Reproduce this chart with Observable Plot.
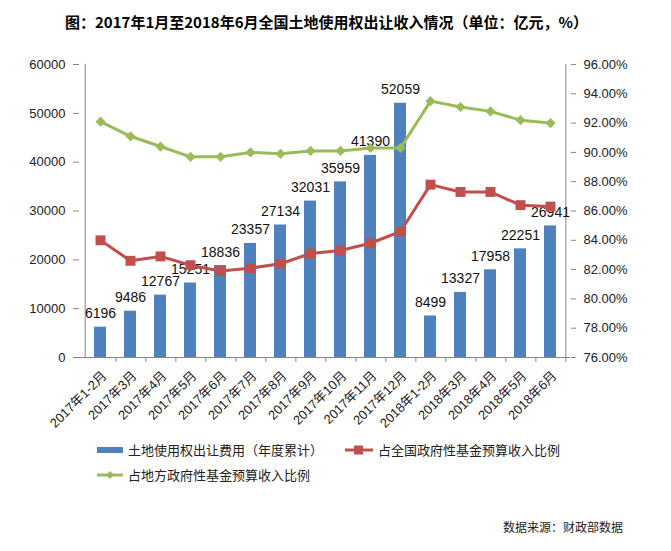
<!DOCTYPE html>
<html><head><meta charset="utf-8">
<script src="https://cdn.jsdelivr.net/npm/d3@7"></script>
<script src="https://cdn.jsdelivr.net/npm/@observablehq/plot@0.6"></script>
<style>
body{margin:0;background:#fff;font-family:"Liberation Sans","Noto Sans CJK SC",sans-serif;}
#wrap{position:relative;width:671px;height:551px;overflow:hidden;background:#fff;}
#title{position:absolute;top:12px;left:65px;white-space:nowrap;font-weight:bold;font-size:15px;font-family:"Noto Sans CJK SC",sans-serif;color:#000;line-height:20px;}
#chart{position:absolute;top:40px;left:0;}
.leg{position:absolute;font-size:13px;font-family:"Noto Sans CJK SC",sans-serif;color:#222;line-height:16px;white-space:nowrap;display:flex;align-items:center;}
.leg svg{margin-right:5px;}
#source{position:absolute;top:518px;left:503px;font-size:12px;font-family:"Noto Sans CJK SC",sans-serif;color:#222;white-space:nowrap;}
</style></head>
<body>
<div id="wrap">
  <div id="title">图：2017年1月至2018年6月全国土地使用权出让收入情况（单位：亿元，%）</div>
  <div id="chart"></div>
  <div class="leg" style="left:97px;top:442px;"><svg width="26" height="8"><rect x="0" y="1" width="26" height="6" fill="#4F81BD"/></svg><span id="l1"></span></div>
  <div class="leg" style="left:345px;top:442px;"><svg width="28" height="12"><line x1="0" y1="6" x2="28" y2="6" stroke="#C0504D" stroke-width="3"/><rect x="9" y="1.5" width="9" height="9" fill="#C0504D"/></svg><span id="l2"></span></div>
  <div class="leg" style="left:97px;top:467px;"><svg width="26" height="12"><line x1="0" y1="6" x2="26" y2="6" stroke="#9BBB59" stroke-width="3"/><path d="M13,2 L17,6 L13,10 L9,6Z" fill="#9BBB59"/></svg><span id="l3"></span></div>
  <div id="source">数据来源：财政部数据</div>
</div>
<script>
const categories = ["2017年1-2月","2017年3月","2017年4月","2017年5月","2017年6月","2017年7月","2017年8月","2017年9月","2017年10月","2017年11月","2017年12月","2018年1-2月","2018年3月","2018年4月","2018年5月","2018年6月"];
const landRevenue = [6196,9486,12767,15251,18836,23357,27134,32031,35959,41390,52059,8499,13327,17958,22251,26941];
const shareNational = [84.0,82.6,82.9,82.3,81.9,82.1,82.4,83.1,83.3,83.8,84.6,87.8,87.3,87.3,86.4,86.3];
const shareLocal = [92.1,91.1,90.4,89.7,89.7,90.0,89.9,90.1,90.1,90.3,90.3,93.5,93.1,92.8,92.2,92.0];
const leftTicks = [0,10000,20000,30000,40000,50000,60000];
const rightTicks = [76,78,80,82,84,86,88,90,92,94,96];
const seriesNames = ["土地使用权出让费用（年度累计）","占全国政府性基金预算收入比例","占地方政府性基金预算收入比例"];

document.getElementById("l1").textContent = seriesNames[0];
document.getElementById("l2").textContent = seriesNames[1];
document.getElementById("l3").textContent = seriesNames[2];

const leftMax = 60000, rMin = 76, rMax = 96;
const toLeft = p => (p - rMin) / (rMax - rMin) * leftMax;
const fromLeft = v => rMin + v / leftMax * (rMax - rMin);

const data = categories.map((c, i) => ({cat: c, value: landRevenue[i], nat: toLeft(shareNational[i]), loc: toLeft(shareLocal[i])}));

const W = 671, H = 390, mL = 79, mR = 101, mT = 24, mB = 73;
const bw = (W - mL - mR) / categories.length;
const axisColor = "#868686";

const chart = Plot.plot({
  width: W, height: H,
  marginLeft: mL, marginRight: mR, marginTop: mT, marginBottom: mB,
  style: {fontFamily: '"Liberation Sans","Noto Sans CJK SC",sans-serif', color: "#222", background: "#fff"},
  x: {type: "band", domain: categories, padding: 0, label: null},
  y: {domain: [0, leftMax], label: null},
  marks: [
    Plot.barY(data, {x: "cat", y: "value", fill: "#4F81BD", insetLeft: 9, insetRight: 9}),
    Plot.ruleY([0], {stroke: axisColor}),
    Plot.ruleX([categories[0]], {x: d => d, y1: 0, y2: leftMax, dx: -bw/2, stroke: axisColor}),
    Plot.ruleX([categories[categories.length-1]], {x: d => d, y1: 0, y2: leftMax, dx: bw/2, stroke: axisColor}),
    Plot.ruleX(categories, {x: d => d, y1: 0, y2: -1000, dx: bw/2, stroke: axisColor}),
    Plot.axisY(leftTicks, {anchor: "left", tickSize: 6, tickPadding: 8, fontSize: 13, stroke: axisColor, fill: "#222", label: null, tickFormat: d => String(d)}),
    Plot.axisY(rightTicks.map(toLeft), {anchor: "right", tickSize: 5, tickPadding: 8, fontSize: 13, stroke: axisColor, fill: "#222", label: null, tickFormat: d => fromLeft(d).toFixed(2) + "%"}),
    Plot.axisX({tickRotate: -45, tickSize: 0, tickPadding: 16, dx: 4, fontSize: 13, fill: "#222", label: null}),
    Plot.text(data, {x: "cat", y: "value", text: d => String(d.value), dy: -9, lineAnchor: "bottom", fontSize: 14, fill: "#111"}),
    Plot.line(data, {x: "cat", y: "nat", stroke: "#C0504D", strokeWidth: 3}),
    Plot.dot(data, {x: "cat", y: "nat", symbol: "square", r: 5.6, fill: "#C0504D", stroke: "none"}),
    Plot.line(data, {x: "cat", y: "loc", stroke: "#9BBB59", strokeWidth: 3}),
    Plot.dot(data, {x: "cat", y: "loc", symbol: "diamond2", r: 4.6, fill: "#9BBB59", stroke: "none"})
  ]
});
document.getElementById("chart").appendChild(chart);
</script>
</body></html>
